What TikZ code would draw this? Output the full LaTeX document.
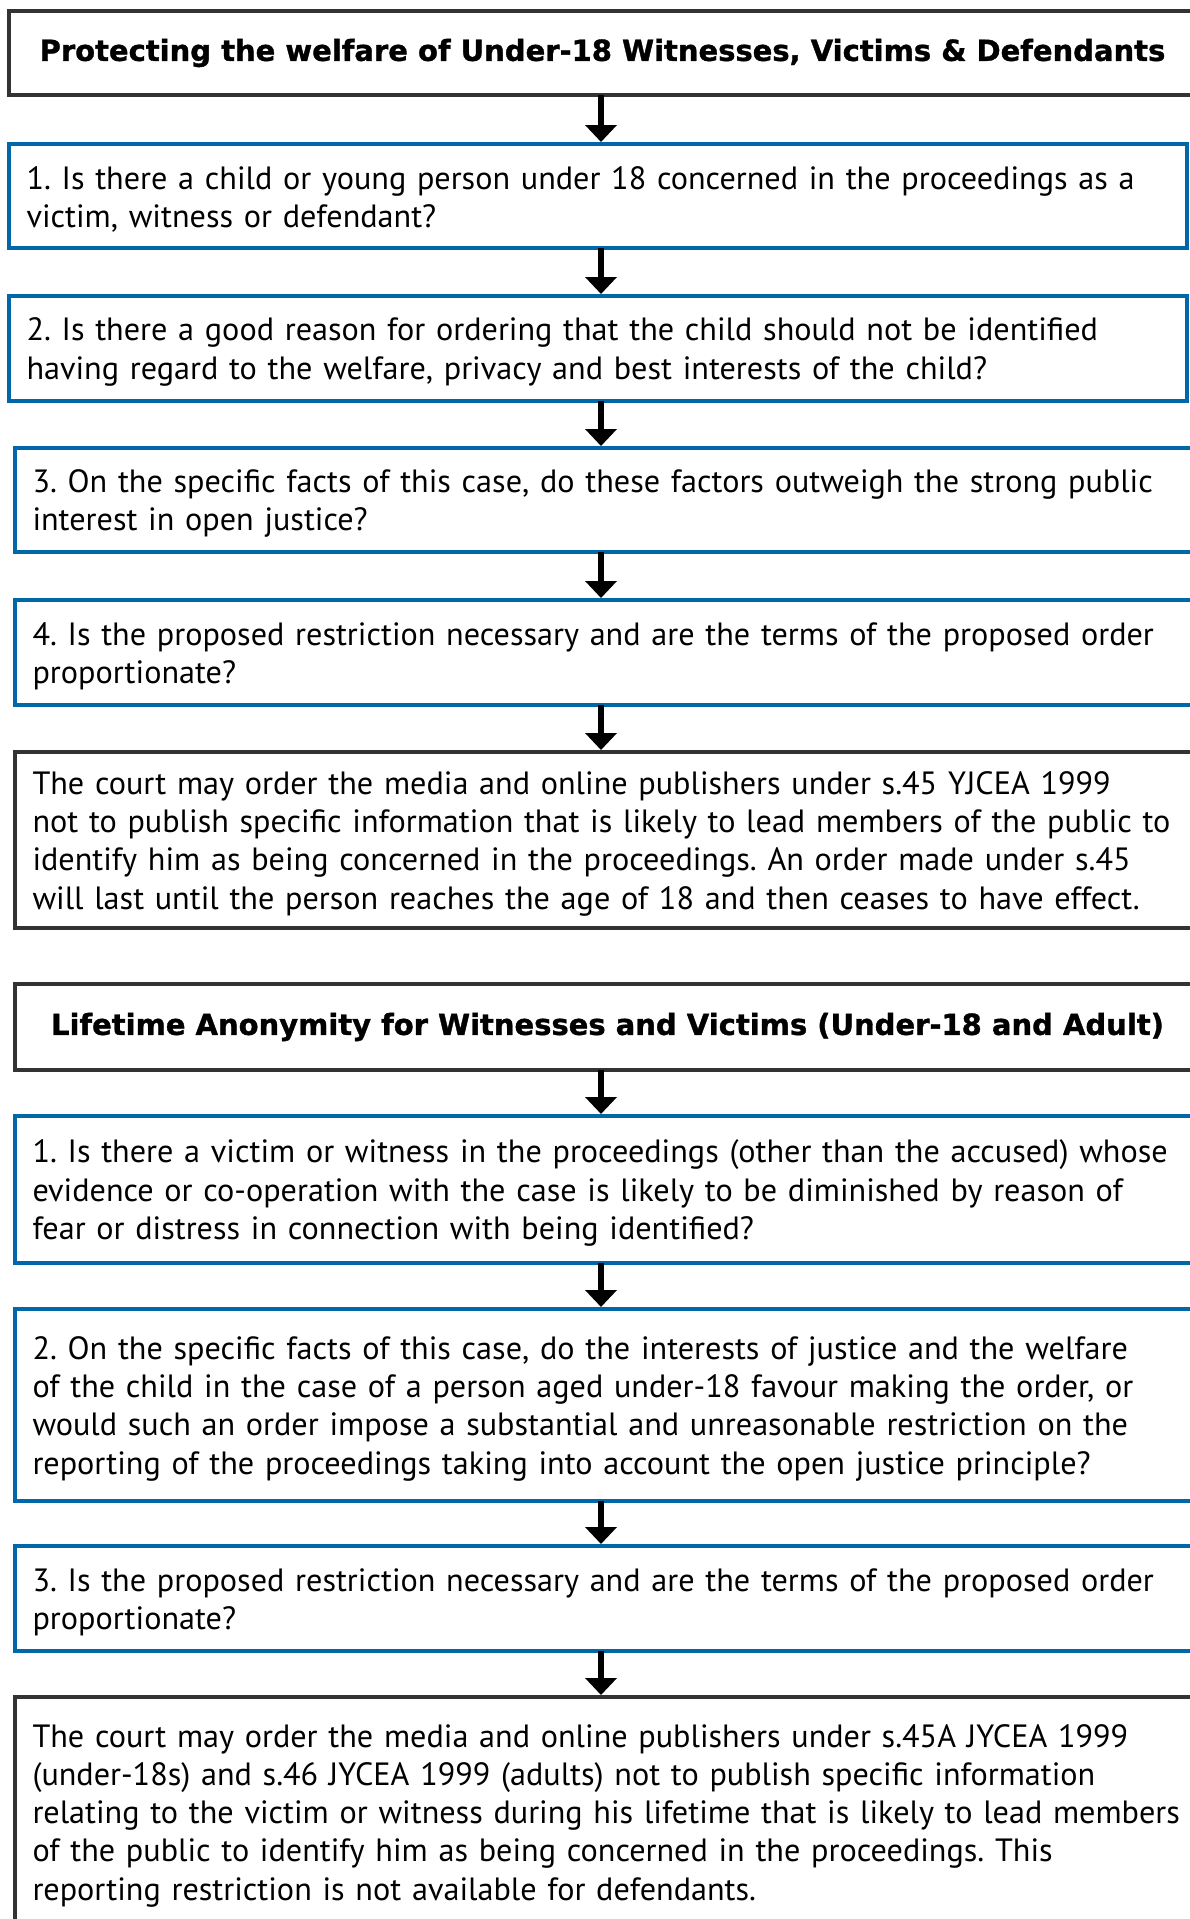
\documentclass[tikz,border=0pt]{standalone}
\usepackage{fontspec}
\setmainfont{PT Sans}
\newfontfamily\headf{DejaVu Sans}[BoldFeatures={FakeBold=1.2}]
\usetikzlibrary{arrows.meta}
\definecolor{boxblue}{HTML}{0068A8}
\definecolor{boxdark}{HTML}{333333}
\newcommand\firstln[1]{\mbox{\rule{0pt}{30pt}#1}}
\begin{document}
\frenchspacing
\begin{tikzpicture}[x=1pt,y=-1pt,
  qbox/.style={draw=boxblue, line width=4.5pt, anchor=north west, inner xsep=17.5pt, inner ysep=0pt, outer sep=0pt, align=left, font=\frenchspacing\fontsize{32.2}{38.3}\selectfont},
  dbox/.style={qbox, draw=boxdark},
  hbox/.style={draw=boxdark, line width=4.5pt, anchor=north west, inner sep=0pt, outer sep=0pt, align=center, font=\headf\bfseries\fontsize{29}{34}\selectfont},
  arr/.style={line width=5.3pt, -{Triangle[width=31pt,length=17pt]}, shorten >=2pt}]
\useasboundingbox[fill=white] (0,0) rectangle (1190,1919);
\coordinate (ax) at (601,0);

\node[hbox, minimum width=1187pt, minimum height=84pt] (h1) at (9,11) {Protecting the welfare of Under-18 Witnesses, Victims \& Defendants};

\node[qbox, text width=1143pt, minimum height=104pt] (q1) at (9,144) {\firstln{1. Is there a child or young person under 18 concerned in the proceedings as a}\\\mbox{victim, witness or defendant?}};

\node[qbox, text width=1143pt, minimum height=105pt] (q2) at (9,296) {\firstln{2. Is there a good reason for ordering that the child should not be identified}\\\mbox{having regard to the welfare, privacy and best interests of the child?}};

\node[qbox, text width=1150pt, minimum height=104pt] (q3) at (15,448) {\firstln{3. On the specific facts of this case, do these factors outweigh the strong public}\\\mbox{interest in open justice?}};

\node[qbox, text width=1150pt, minimum height=105pt] (q4) at (15,600) {\firstln{4. Is the proposed restriction necessary and are the terms of the proposed order}\\\mbox{proportionate?}};

\node[dbox, text width=1150pt, minimum height=176pt] (r1) at (15,752) {\firstln{The court may order the media and online publishers under s.45 YJCEA 1999}\\\mbox{not to publish specific information that is likely to lead members of the public to}\\\mbox{identify him as being concerned in the proceedings. An order made under s.45}\\\mbox{will last until the person reaches the age of 18 and then ceases to have effect.}};

\node[hbox, minimum width=1185pt, minimum height=86pt] (h2) at (15,984) {Lifetime Anonymity for Witnesses and Victims (Under-18 and Adult)};

\node[qbox, text width=1150pt, minimum height=147pt] (l1) at (15,1116) {\firstln{1. Is there a victim or witness in the proceedings (other than the accused) whose}\\\mbox{evidence or co-operation with the case is likely to be diminished by reason of}\\\mbox{fear or distress in connection with being identified?}};

\node[qbox, text width=1150pt, minimum height=192pt] (l2) at (15,1309) {\firstln{2. On the specific facts of this case, do the interests of justice and the welfare}\\\mbox{of the child in the case of a person aged under-18 favour making the order, or}\\\mbox{would such an order impose a substantial and unreasonable restriction on the}\\\mbox{reporting of the proceedings taking into account the open justice principle?}};

\node[qbox, text width=1150pt, minimum height=105pt] (l3) at (15,1546) {\firstln{3. Is the proposed restriction necessary and are the terms of the proposed order}\\\mbox{proportionate?}};

\node[dbox, text width=1150pt, minimum height=230pt] (r2) at (15,1697) {\firstln{The court may order the media and online publishers under s.45A JYCEA 1999}\\\mbox{(under-18s) and s.46 JYCEA 1999 (adults) not to publish specific information}\\\mbox{relating to the victim or witness during his lifetime that is likely to lead members}\\\mbox{of the public to identify him as being concerned in the proceedings. This}\\\mbox{reporting restriction is not available for defendants.}};

\draw[arr] (ax |- h1.south) -- (ax |- q1.north);
\draw[arr] (ax |- q1.south) -- (ax |- q2.north);
\draw[arr] (ax |- q2.south) -- (ax |- q3.north);
\draw[arr] (ax |- q3.south) -- (ax |- q4.north);
\draw[arr] (ax |- q4.south) -- (ax |- r1.north);
\draw[arr] (ax |- h2.south) -- (ax |- l1.north);
\draw[arr] (ax |- l1.south) -- (ax |- l2.north);
\draw[arr] (ax |- l2.south) -- (ax |- l3.north);
\draw[arr] (ax |- l3.south) -- (ax |- r2.north);
\end{tikzpicture}
\end{document}
